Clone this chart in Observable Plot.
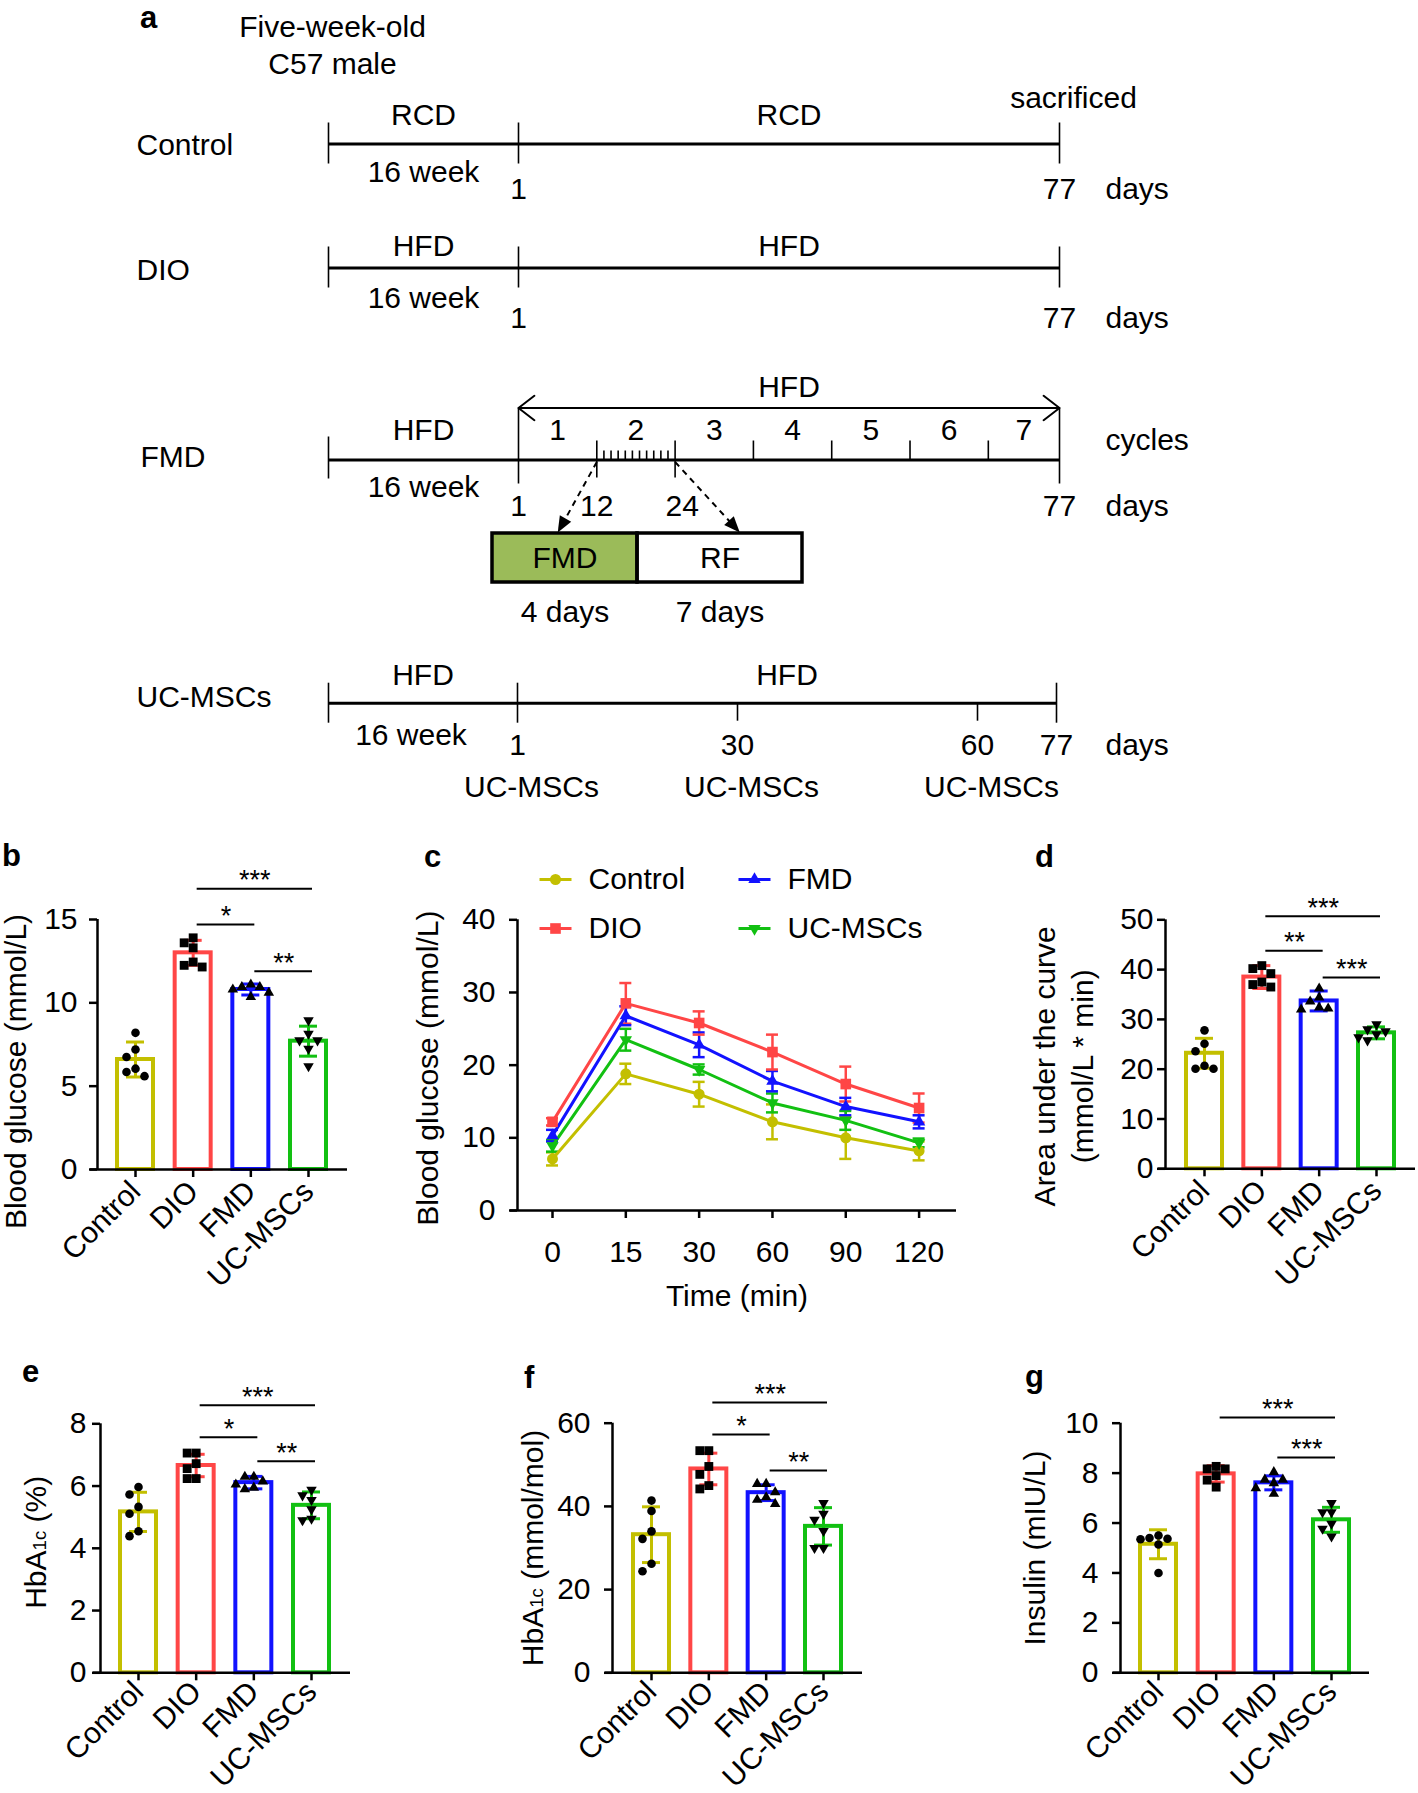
<!DOCTYPE html>
<html>
<head>
<meta charset="utf-8">
<script src="https://cdn.jsdelivr.net/npm/d3@7"></script>
<script src="https://cdn.jsdelivr.net/npm/@observablehq/plot@0.6"></script>
<style>
html, body { margin: 0; padding: 0; background: #fff; }
#fig { position: relative; width: 1418px; height: 1793px; overflow: hidden; background: #fff;
  font-family: "Liberation Sans", Arial, Helvetica, sans-serif; color: #000; }
.letter { position: absolute; font-weight: bold; font-size: 31px; line-height: 20px; white-space: nowrap; }
</style>
</head>
<body>
<div id="fig"></div>
<script>
// ================= DATA =================
const groups = ["Control", "DIO", "FMD", "UC-MSCs"];
const groupColors = ["#c3bf00", "#ff4646", "#1212ff", "#12c012"];

// (a) study design
const preWeeks = 16;
const studyDays = [1, 77];
const controlDiet = ["RCD", "RCD"];
const dioDiet = ["HFD", "HFD"];
const fmdDiet = ["HFD", "HFD"];
const ucDiet = ["HFD", "HFD"];
const fmdCycleBounds = [1, 12, 23, 34, 45, 56, 67, 77];
const fmdCycleNumbers = [1, 2, 3, 4, 5, 6, 7];
const fmdDayLabels = [1, 12, 24, 77];
const fmdHatchDays = [13, 14, 15, 16, 17, 18, 19, 20, 21, 22];
const fmdPhases = ["FMD", "RF"];
const fmdPhaseDays = [4, 7];
const ucInjectionDays = [1, 30, 60];
const ucDayLabels = [1, 30, 60, 77];

// (b) fasting blood glucose (mmol/L)
const glucoseMean = [6.6, 13.0, 10.8, 7.7];
const glucoseSD = [1.05, 0.75, 0.33, 0.9];
const glucosePoints = [
  [8.2, 7.2, 6.75, 6.05, 5.85, 5.6],
  [13.9, 13.6, 13.3, 12.45, 12.25, 12.15],
  [11.1, 10.95, 10.95, 10.8, 10.6, 10.35],
  [8.95, 8.15, 7.75, 7.75, 7.25, 6.2]
];
const glucoseSig = [["DIO", "UC-MSCs", 16.85, "***"], ["DIO", "FMD", 14.7, "*"], ["FMD", "UC-MSCs", 11.9, "**"]];

// (c) OGTT blood glucose (mmol/L)
const ogttTimes = ["0", "15", "30", "60", "90", "120"];
const ogttMean = [
  [7.1, 18.8, 16.0, 12.2, 10.0, 8.2],
  [12.2, 28.5, 25.8, 21.8, 17.4, 14.1],
  [10.3, 26.8, 22.8, 17.8, 14.3, 12.2],
  [8.9, 23.5, 19.4, 14.8, 12.4, 9.3]
];
const ogttSD = [
  [0.9, 1.4, 1.7, 2.4, 2.9, 1.3],
  [0.5, 2.8, 1.6, 2.4, 2.4, 2.0],
  [0.8, 1.3, 1.7, 1.4, 1.2, 0.9],
  [0.8, 1.5, 0.7, 1.3, 1.3, 0.6]
];

// (d) AUC (mmol/L * min)
const aucMean = [23.2, 38.5, 33.7, 27.3];
const aucSD = [3.0, 2.3, 2.0, 1.2];
const aucPoints = [
  [27.8, 25.1, 23.6, 20.7, 20.1, 20.1],
  [40.8, 40.2, 39.2, 37.5, 37.0, 36.5],
  [36.2, 34.4, 33.6, 32.4, 32.2, 32.0],
  [29.0, 28.0, 27.6, 27.0, 26.4, 25.8]
];
const aucSig = [["DIO", "UC-MSCs", 50.7, "***"], ["DIO", "FMD", 43.8, "**"], ["FMD", "UC-MSCs", 38.4, "***"]];

// (e) HbA1c (%)
const hbaPctMean = [5.17, 6.66, 6.11, 5.38];
const hbaPctSD = [0.63, 0.36, 0.2, 0.43];
const hbaPctPoints = [
  [5.97, 5.73, 5.33, 5.11, 4.55, 4.39],
  [7.06, 7.06, 6.72, 6.56, 6.24, 6.24],
  [6.3, 6.3, 6.15, 6.05, 5.95, 5.9],
  [5.88, 5.7, 5.55, 5.25, 4.95, 4.9]
];
const hbaPctSig = [["DIO", "UC-MSCs", 8.6, "***"], ["DIO", "FMD", 7.57, "*"], ["FMD", "UC-MSCs", 6.8, "**"]];

// (f) HbA1c (mmol/mol)
const hbaMolMean = [33.2, 49.0, 43.3, 35.2];
const hbaMolSD = [6.7, 3.8, 1.9, 4.5];
const hbaMolPoints = [
  [41.4, 38.9, 34.0, 32.2, 26.2, 24.4],
  [53.4, 53.4, 49.6, 47.7, 45.0, 44.2],
  [45.4, 45.4, 43.4, 42.2, 41.6, 40.6],
  [40.8, 38.2, 36.8, 34.1, 30.0, 30.0]
];
const hbaMolSig = [["DIO", "UC-MSCs", 65.0, "***"], ["DIO", "FMD", 57.3, "*"], ["FMD", "UC-MSCs", 48.6, "**"]];

// (g) Insulin (mIU/L)
const insulinMean = [5.15, 7.97, 7.61, 6.13];
const insulinSD = [0.58, 0.33, 0.28, 0.5];
const insulinPoints = [
  [5.5, 5.4, 5.37, 5.35, 5.14, 4.0],
  [8.27, 8.17, 8.17, 7.9, 7.72, 7.44],
  [8.04, 7.74, 7.74, 7.6, 7.4, 7.17],
  [6.8, 6.43, 6.43, 5.97, 5.77, 5.46]
];
const insulinSig = [["DIO", "UC-MSCs", 10.23, "***"], ["FMD", "UC-MSCs", 8.63, "***"]];

// ================= RENDERING =================
const FONT = '"Liberation Sans", Arial, Helvetica, sans-serif';
const fig = document.getElementById("fig");
const baseStyle = {fontFamily: FONT, background: "transparent", color: "black", overflow: "visible"};

function place(el, left, top) {
  el.style.position = "absolute";
  el.style.left = left + "px";
  el.style.top = top + "px";
  el.style.maxWidth = "none";
  fig.appendChild(el);
  return el;
}

const triangleDown = {
  draw(ctx, size) {
    const y = -Math.sqrt(size / (Math.sqrt(3) * 3));
    ctx.moveTo(0, -2 * y);
    ctx.lineTo(-Math.sqrt(3) * y, y);
    ctx.lineTo(Math.sqrt(3) * y, y);
    ctx.closePath();
  }
};
const hLine = { draw(ctx) { ctx.moveTo(-16, 0); ctx.lineTo(16, 0); } };
const arrowHead = { draw(ctx) { ctx.moveTo(0, 0); ctx.lineTo(-6.5, 16); ctx.lineTo(6.5, 16); ctx.closePath(); } };

// ---------- panel a (schematic timeline; days -> page x through a piecewise d3 scale) ----------
const preStart = studyDays[0] - preWeeks * 7;
const rowLayout = {
  "Control": {lineY: 143.5, xDomain: [preStart, 1, 77], xRange: [328, 518, 1059], labelX: 136, labelDy: 1.5, dietDy: -28.5, weekDy: 28.5, dayDy: 45},
  "DIO": {lineY: 267.5, xDomain: [preStart, 1, 77], xRange: [328, 518, 1059], labelX: 136, labelDy: 2.5, dietDy: -22, weekDy: 30, dayDy: 50},
  "FMD": {lineY: 459.5, xDomain: [preStart, 1, 77], xRange: [328, 518, 1059], labelX: 140, labelDy: -2.5, dietDy: -29.5, weekDy: 27.5, dayDy: 46, dietOnArrow: true},
  "UC-MSCs": {lineY: 702.7, xDomain: [preStart, 1, 30, 60, 77], xRange: [328, 517, 737, 977, 1056], labelX: 136, labelDy: -6, dietDy: -28, weekDy: 32, dayDy: 42, weekDx: -12}
};
const daysTextX = 1105;

function rowPlot(name, diet, ticks, dayLabels, extra) {
  const L = rowLayout[name];
  const xs = d3.scaleLinear().domain(L.xDomain).range(L.xRange);
  const mid = (a, b) => (xs(a) + xs(b)) / 2;
  const segs = [
    {from: preStart, to: studyDays[0], diet: diet[0]},
    {from: studyDays[0], to: studyDays[1], diet: diet[1]}
  ];
  const marks = [
    Plot.ruleY(segs, {x1: (d) => xs(d.from), x2: (d) => xs(d.to), y: 0, strokeWidth: 3}),
    Plot.ruleX(ticks, {x: (d) => xs(d.day), y1: "lo", y2: "hi", strokeWidth: 1.6}),
    Plot.text(L.dietOnArrow ? segs.slice(0, 1) : segs, {x: (d) => mid(d.from, d.to), y: 0, text: "diet", dy: L.dietDy, fontSize: 30}),
    Plot.text(segs.slice(0, 1), {x: (d) => mid(d.from, d.to), y: 0, text: () => `${preWeeks} week`, dx: L.weekDx || 0, dy: L.weekDy, fontSize: 30}),
    Plot.text(dayLabels, {x: (d) => xs(d), y: 0, text: (d) => String(d), dy: L.dayDy, fontSize: 30}),
    Plot.text(["days"], {x: daysTextX, y: 0, text: (d) => d, dy: L.dayDy, textAnchor: "start", fontSize: 30}),
    Plot.text([name], {x: L.labelX, y: 0, text: (d) => d, dy: L.labelDy, textAnchor: "start", fontSize: 30}),
    ...(extra ? extra(xs, mid, segs) : [])
  ];
  const svg = Plot.plot({
    width: 1418, height: 810, margin: 0,
    x: {type: "identity", axis: null},
    y: {domain: [0, 1], range: [L.lineY, L.lineY - 20], axis: null},
    style: baseStyle,
    marks
  });
  return place(svg, 0, 0);
}

function boundaryTicks(days, lo, hi) { return days.map((day) => ({day, lo, hi})); }

// Control row
rowPlot("Control", controlDiet,
  boundaryTicks([preStart, ...studyDays], -1, 1.05),
  studyDays,
  (xs) => [
    Plot.text(["sacrificed"], {x: xs(studyDays[1]), y: 0, text: (d) => d, dx: 14, dy: -45.5, fontSize: 30}),
    Plot.text(["Five-week-old\nC57 male"], {x: xs(preStart), y: 0, text: (d) => d, dx: 4, dy: -100, lineHeight: 1.23, fontSize: 30})
  ]);

// DIO row
rowPlot("DIO", dioDiet, boundaryTicks([preStart, ...studyDays], -1, 1.05), studyDays);

// FMD row
const arrowLevel = 2.6;
const fmdTicks = [
  ...boundaryTicks([preStart], -0.95, 1.15),
  ...boundaryTicks(studyDays, -1.2, arrowLevel),
  ...boundaryTicks(fmdCycleBounds.slice(1, 3), -0.9, 0.95),
  ...boundaryTicks(fmdCycleBounds.slice(3, -1), 0, 0.95),
  ...boundaryTicks(fmdHatchDays, 0, 0.45)
];
rowPlot("FMD", fmdDiet, fmdTicks, fmdDayLabels, (xs, mid, segs) => {
  const m = mid(studyDays[0], studyDays[1]);
  const cycles = fmdCycleNumbers.map((n, i) => ({n, x: mid(fmdCycleBounds[i], fmdCycleBounds[i + 1])}));
  return [
    Plot.arrow([{a: m, b: xs(studyDays[0])}, {a: m, b: xs(studyDays[1])}], {x1: "a", x2: "b", y1: arrowLevel, y2: arrowLevel, headLength: 15, headAngle: 75, strokeWidth: 2}),
    Plot.text(segs.slice(1), {x: m, y: arrowLevel, text: "diet", dy: -21, fontSize: 30}),
    Plot.text(cycles, {x: "x", y: 0, text: (d) => String(d.n), dy: -29.5, fontSize: 30}),
    Plot.text(["cycles"], {x: daysTextX, y: 0, text: (d) => d, dy: -20, textAnchor: "start", fontSize: 30})
  ];
});

// FMD cycle inset box (cycle days 0..11 -> page x)
const phaseBounds = [0, fmdPhaseDays[0], fmdPhaseDays[0] + fmdPhaseDays[1]];
const boxXRange = [492, 637, 802];
const boxYRange = [533, 582];
{
  const fmdXs = d3.scaleLinear().domain(rowLayout.FMD.xDomain).range(rowLayout.FMD.xRange);
  const bx = d3.scaleLinear().domain(phaseBounds).range(boxXRange);
  const by = d3.scaleLinear().domain([0, 1]).range(boxYRange);
  const phases = fmdPhases.map((p, i) => ({phase: p, days: fmdPhaseDays[i], start: bx(phaseBounds[i]), end: bx(phaseBounds[i + 1]), mid: bx((phaseBounds[i] + phaseBounds[i + 1]) / 2)}));
  // arrows point from the cycle-2 boundary ticks down into the magnified cycle
  const arrowTargets = [bx(phaseBounds[0] + fmdPhaseDays[0] * 0.45), bx(phaseBounds[1] + fmdPhaseDays[1] * 0.62)];
  const arrows = arrowTargets.map((tx, i) => {
    const sx = fmdXs(fmdCycleBounds[1 + i]), sy = rowLayout.FMD.lineY + 2;
    const ty = by(0) - 1;
    const len = Math.hypot(tx - sx, ty - sy), ux = (tx - sx) / len, uy = (ty - sy) / len;
    return {
      x1: sx, y1: by.invert(sy),
      x2: tx - ux * 14, y2: by.invert(ty - uy * 14),
      tx, ty: by.invert(ty),
      angle: Math.atan2(ux, -uy) * 180 / Math.PI
    };
  });
  const svg = Plot.plot({
    width: 1418, height: 810, margin: 0,
    x: {type: "identity", axis: null},
    y: {domain: [0, 1], range: boxYRange, axis: null},
    style: baseStyle,
    marks: [
      Plot.rect(phases.filter((p) => p.phase === "FMD"), {x1: "start", x2: "end", y1: 0, y2: 1, fill: "#9bbb59"}),
      Plot.rect(phases.filter((p) => p.phase !== "FMD"), {x1: "start", x2: "end", y1: 0, y2: 1, fill: "white"}),
      Plot.rect(phases, {x1: "start", x2: "end", y1: 0, y2: 1, fill: "none", stroke: "black", strokeWidth: 3.5}),
      Plot.text(phases, {x: "mid", y: 0.5, text: "phase", fontSize: 30}),
      Plot.text(phases, {x: "mid", y: 1, text: (d) => `${d.days} days`, dy: 30, fontSize: 30}),
      Plot.link(arrows, {x1: "x1", y1: "y1", x2: "x2", y2: "y2", strokeDasharray: "6,5", strokeWidth: 2}),
      Plot.dot(arrows, {x: "tx", y: "ty", symbol: arrowHead, rotate: "angle", fill: "black", stroke: "none", r: 5})
    ]
  });
  place(svg, 0, 0);
}

// UC-MSCs row
const ucTicks = [
  ...boundaryTicks([preStart, ...studyDays], -1, 1),
  ...boundaryTicks(ucInjectionDays.slice(1), -0.9, 0)
];
rowPlot("UC-MSCs", ucDiet, ucTicks, ucDayLabels, (xs) => [
  Plot.text(ucInjectionDays, {x: (d) => xs(d), y: 0, text: () => "UC-MSCs", dx: 14, dy: 84, fontSize: 30})
]);

// ---------- bar panels ----------
function swarm(values, pxPerUnit, diam, spacing) {
  const order = values.map((v, i) => i).sort((a, b) => values[b] - values[a]);
  const placed = [];
  const ks = new Array(values.length).fill(0);
  for (const i of order) {
    const y = values[i] * pxPerUnit;
    for (const k of [0, -1, 1, -2, 2, -3, 3]) {
      const x = k * spacing;
      if (placed.every((p) => Math.hypot(p.x - x, p.y - y) >= diam)) { ks[i] = k; placed.push({x, y}); break; }
    }
  }
  return ks;
}

const barSymbols = ["circle", "square", "triangle", triangleDown];
const barSymbolR = [4.3, 5.0, 3.9, 3.9];

function hbaSubscript(svg) {
  const ns = "http://www.w3.org/2000/svg";
  svg.querySelectorAll("text").forEach((t) => {
    const s = t.textContent;
    if (!s.startsWith("HbA1c")) return;
    t.textContent = "";
    const a = document.createElementNS(ns, "tspan"); a.textContent = "HbA";
    const b = document.createElementNS(ns, "tspan"); b.textContent = "1c"; b.setAttribute("font-size", "62%");
    const c = document.createElementNS(ns, "tspan"); c.textContent = s.slice(5);
    t.append(a, b, c);
  });
}

function barPanel(c) {
  const step = (c.centers[3] - c.centers[0]) / 3;
  const bandW = 36;
  const pin = 1 - bandW / step;
  const rows = groups.map((g, i) => ({group: g, mean: c.mean[i], lo: c.mean[i] - c.sd[i], hi: c.mean[i] + c.sd[i]}));
  const pxPerUnit = (c.yZero - c.yTop) / c.yMax;
  const pts = [];
  groups.forEach((g, gi) => {
    const ks = swarm(c.points[gi], pxPerUnit, 8.5, 9);
    c.points[gi].forEach((v, j) => pts.push({group: g, value: v, k: ks[j]}));
  });
  const marks = [
    Plot.barY(rows, {x: "group", y: "mean", fill: "white", stroke: "group", strokeWidth: 4}),
    Plot.ruleX(rows, {x: "group", y1: "lo", y2: "hi", stroke: "group", strokeWidth: 3}),
    Plot.ruleY(rows, {x1: "group", x2: "group", y: "hi", stroke: "group", strokeWidth: 3, insetLeft: 9, insetRight: 9}),
    Plot.ruleY(rows, {x1: "group", x2: "group", y: "lo", stroke: "group", strokeWidth: 3, insetLeft: 9, insetRight: 9})
  ];
  groups.forEach((g, gi) => {
    for (const k of [-3, -2, -1, 0, 1, 2, 3]) {
      const sel = pts.filter((p) => p.group === g && p.k === k);
      if (!sel.length) continue;
      marks.push(Plot.dot(sel, {x: "group", y: "value", dx: k * 9, symbol: barSymbols[gi], r: barSymbolR[gi], fill: "black", stroke: "none"}));
    }
  });
  marks.push(
    Plot.ruleY([0], {strokeWidth: 2.5, insetLeft: -7}),
    Plot.ruleX([groups[0]], {x: (d) => d, y1: 0, y2: c.yMax, dx: c.axisX - c.centers[0], strokeWidth: 2.5}),
    Plot.axisY({ticks: c.yTicks, tickSize: 8, tickPadding: c.yPad, fontSize: 30, strokeWidth: 2.5, label: null}),
    Plot.axisX({tickSize: 8, tickPadding: c.xPad, tickRotate: -45, fontSize: 30, strokeWidth: 2.5, label: null}),
    Plot.text([c.yLabel], {frameAnchor: "left", rotate: -90, text: (d) => d, textAnchor: "middle", lineAnchor: "middle", dx: c.labelDx, dy: c.labelDy, fontSize: 30, lineHeight: 1.27})
  );
  for (const [from, to, y, label] of c.sig) {
    const i0 = groups.indexOf(from), i1 = groups.indexOf(to);
    const b = {from, to, y, label};
    marks.push(Plot.ruleY([b], {x1: "from", x2: "to", y: "y", insetLeft: bandW / 2 + 4, insetRight: bandW / 2 - 4, strokeWidth: 2}));
    marks.push(Plot.text([b], {x: "from", y: "y", text: "label", dx: (i1 - i0) * step / 2 + 4, dy: -8, fontSize: 27}));
  }
  const svg = Plot.plot({
    width: c.width, height: c.height,
    marginLeft: c.axisX - c.left, marginRight: c.left + c.width - c.xEnd,
    marginTop: c.yTop - c.top, marginBottom: c.top + c.height - c.yZero,
    x: {type: "band", domain: groups, range: [c.centers[0] - step / 2 - c.left, c.centers[3] + step / 2 - c.left], paddingInner: pin, paddingOuter: pin / 2, align: 0.5, round: false, axis: null},
    y: {domain: [0, c.yMax], axis: null},
    color: {domain: groups, range: groupColors},
    style: baseStyle,
    marks
  });
  hbaSubscript(svg);
  return place(svg, c.left, c.top);
}

barPanel({left: 0, top: 830, width: 400, height: 470, axisX: 97, yZero: 1169, yTop: 919, yMax: 15, yTicks: [0, 5, 10, 15],
  centers: [135, 193, 250, 308], xEnd: 347, yPad: 12, xPad: 9,
  yLabel: "Blood glucose (mmol/L)", labelDx: -84, labelDy: 27,
  mean: glucoseMean, sd: glucoseSD, points: glucosePoints, sig: glucoseSig});

barPanel({left: 1000, top: 830, width: 418, height: 470, axisX: 1165, yZero: 1168.3, yTop: 919.3, yMax: 50, yTicks: [0, 10, 20, 30, 40, 50],
  centers: [1204, 1262, 1319, 1376], xEnd: 1415, yPad: 4, xPad: 9,
  yLabel: "Area under the curve\n(mmol/L * min)", labelDx: -104, labelDy: 22,
  mean: aucMean, sd: aucSD, points: aucPoints, sig: aucSig});

barPanel({left: 0, top: 1360, width: 480, height: 433, axisX: 100, yZero: 1672.3, yTop: 1423.3, yMax: 8, yTicks: [0, 2, 4, 6, 8],
  centers: [138, 196, 253, 311], xEnd: 350, yPad: 6, xPad: 6,
  yLabel: "HbA1c (%)", labelDx: -67, labelDy: -6,
  mean: hbaPctMean, sd: hbaPctSD, points: hbaPctPoints, sig: hbaPctSig});

barPanel({left: 480, top: 1360, width: 480, height: 433, axisX: 612, yZero: 1672.3, yTop: 1422.7, yMax: 60, yTicks: [0, 20, 40, 60],
  centers: [651, 708, 765, 823], xEnd: 862, yPad: 14, xPad: 6,
  yLabel: "HbA1c (mmol/mol)", labelDx: -82, labelDy: 0,
  mean: hbaMolMean, sd: hbaMolSD, points: hbaMolPoints, sig: hbaMolSig});

barPanel({left: 960, top: 1360, width: 458, height: 433, axisX: 1120, yZero: 1672.3, yTop: 1422.7, yMax: 10, yTicks: [0, 2, 4, 6, 8, 10],
  centers: [1158, 1216, 1273, 1331], xEnd: 1369, yPad: 14, xPad: 6,
  yLabel: "Insulin (mIU/L)", labelDx: -88, labelDy: 0,
  mean: insulinMean, sd: insulinSD, points: insulinPoints, sig: insulinSig});

// ---------- panel c: OGTT ----------
{
  const c = {left: 400, top: 830, width: 580, height: 490, axisX: 517, yZero: 1210, yTop: 919.3, yMax: 40, x0: 552, x1: 918.6, xEnd: 956};
  const long = [];
  groups.forEach((g, gi) => ogttTimes.forEach((t, ti) => {
    const m = ogttMean[gi][ti], s = ogttSD[gi][ti];
    long.push({series: g, time: t, mean: m, lo: m - s, hi: m + s});
  }));
  const symbols = ["circle", "square", "triangle", triangleDown];
  const symR = [5.5, 6.0, 4.6, 4.6];
  const marks = [
    Plot.ruleX(long, {x: "time", y1: "lo", y2: "hi", stroke: "series", strokeWidth: 2.5}),
    Plot.ruleY(long, {x1: "time", x2: "time", y: "hi", stroke: "series", strokeWidth: 2.5, insetLeft: -6, insetRight: -6}),
    Plot.ruleY(long, {x1: "time", x2: "time", y: "lo", stroke: "series", strokeWidth: 2.5, insetLeft: -6, insetRight: -6}),
    Plot.line(long, {x: "time", y: "mean", z: "series", stroke: "series", strokeWidth: 3})
  ];
  groups.forEach((g, gi) => {
    marks.push(Plot.dot(long.filter((d) => d.series === g), {x: "time", y: "mean", symbol: symbols[gi], r: symR[gi], fill: "series", stroke: "none"}));
  });
  groups.forEach((g, gi) => {
    const col = gi < 2 ? 0 : 1, row = gi % 2;
    const lx = 38 + col * 199, ly = -40.3 + row * 49;
    marks.push(Plot.dot([g], {frameAnchor: "top-left", dx: lx, dy: ly, symbol: hLine, r: 16, fill: "none", stroke: groupColors[gi], strokeWidth: 3}));
    marks.push(Plot.dot([g], {frameAnchor: "top-left", dx: lx, dy: ly, symbol: symbols[gi], r: symR[gi], fill: groupColors[gi], stroke: "none"}));
    marks.push(Plot.text([g], {frameAnchor: "top-left", text: (d) => d, dx: lx + 33, dy: ly, textAnchor: "start", lineAnchor: "middle", fontSize: 30}));
  });
  marks.push(
    Plot.ruleY([0], {strokeWidth: 2.5, insetLeft: -7}),
    Plot.ruleX([ogttTimes[0]], {x: (d) => d, y1: 0, y2: c.yMax, dx: c.axisX - c.x0, strokeWidth: 2.5}),
    Plot.axisY({ticks: [0, 10, 20, 30, 40], tickSize: 8, tickPadding: 14, fontSize: 30, strokeWidth: 2.5, label: null}),
    Plot.axisX({tickSize: 8, tickPadding: 22, fontSize: 30, strokeWidth: 2.5, label: null}),
    Plot.text(["Blood glucose (mmol/L)"], {frameAnchor: "left", rotate: -90, text: (d) => d, textAnchor: "middle", lineAnchor: "middle", dx: -89, dy: 3, fontSize: 30}),
    Plot.text(["Time (min)"], {frameAnchor: "bottom", text: (d) => d, textAnchor: "middle", lineAnchor: "middle", dy: 86, fontSize: 30})
  );
  const svg = Plot.plot({
    width: c.width, height: c.height,
    marginLeft: c.axisX - c.left, marginRight: c.left + c.width - c.xEnd,
    marginTop: c.yTop - c.top, marginBottom: c.top + c.height - c.yZero,
    x: {type: "point", domain: ogttTimes, range: [c.x0 - c.left, c.x1 - c.left], padding: 0, round: false, axis: null},
    y: {domain: [0, c.yMax], axis: null},
    color: {domain: groups, range: groupColors},
    style: baseStyle,
    marks
  });
  place(svg, c.left, c.top);
}

// ---------- panel letters ----------
const panelLetters = [["a", 140, 29], ["b", 2, 867], ["c", 424, 868], ["d", 1035, 868], ["e", 22, 1383], ["f", 524, 1389], ["g", 1025, 1388]];
for (const [t, x, baseline] of panelLetters) {
  const d = document.createElement("div");
  d.className = "letter";
  d.textContent = t;
  d.style.left = x + "px";
  d.style.top = (baseline - 20.75) + "px";
  fig.appendChild(d);
}
</script>
</body>
</html>
